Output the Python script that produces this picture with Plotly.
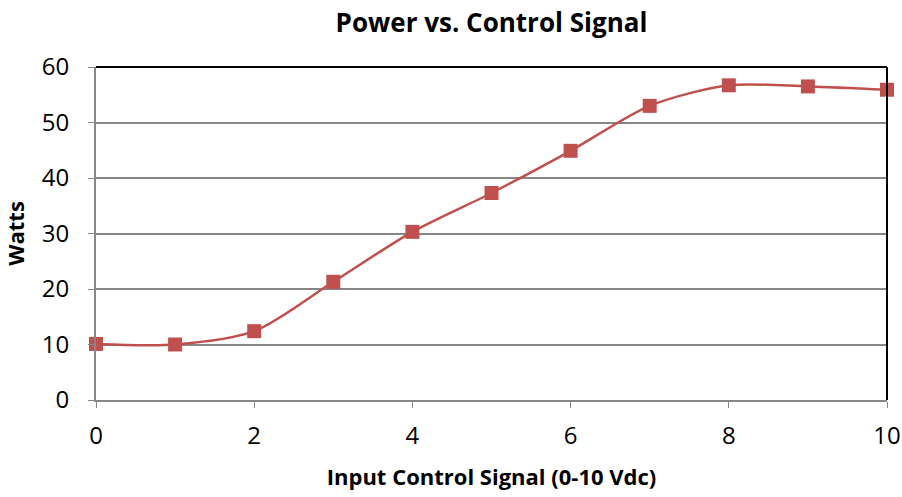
import plotly.graph_objects as go

x_vals = [0, 1, 2, 3, 4, 5, 6, 7, 8, 9, 10]
watts = [10.1, 10.0, 12.4, 21.3, 30.3, 37.3, 44.9, 53.0, 56.7, 56.5, 55.9]
x_ticks = [0, 2, 4, 6, 8, 10]
y_ticks = [0, 10, 20, 30, 40, 50, 60]

FONT = "Open Sans, Calibri, sans-serif"
W, H = 902, 497

fig = go.Figure()
fig.add_trace(go.Scatter(
    x=x_vals, y=watts, mode="lines+markers",
    line=dict(color="#C0504D", width=2.5, shape="spline", smoothing=0.8),
    marker=dict(symbol="square", size=14, color="#C0504D"),
    showlegend=False, cliponaxis=False,
))

fig.update_layout(
    width=W, height=H,
    margin=dict(l=96, r=15, t=67, b=97),
    paper_bgcolor="white", plot_bgcolor="white",
    font=dict(family=FONT, color="black", size=22),
    title=dict(text="<b>Power vs. Control Signal</b>", x=0.5, xanchor="center",
               xref="paper", yref="container",
               y=1 - 23 / H, yanchor="middle", font=dict(size=26, family=FONT)),
)
fig.update_xaxes(
    range=[0, 10], tickvals=x_ticks, showgrid=False, automargin=False,
    ticks="outside", ticklen=6, tickcolor="#868686", tickwidth=1,
    showline=True, linecolor="#868686", linewidth=2, mirror=False,
    zeroline=False, ticklabelstandoff=7,
    title=dict(text="<b>Input Control Signal (0-10 Vdc)</b>", font=dict(size=22), standoff=20),
    tickfont=dict(size=24),
)
fig.update_yaxes(
    range=[0, 60], tickvals=y_ticks, showgrid=True, gridcolor="#868686", gridwidth=1.5,
    automargin=False,
    ticks="outside", ticklen=6, tickcolor="#868686", tickwidth=1,
    showline=True, linecolor="#868686", linewidth=2,
    zeroline=False, ticklabelstandoff=14,
    title=dict(text="<b>Watts</b>", font=dict(size=22), standoff=18),
    tickfont=dict(size=24),
)
# black top and right border
fig.add_shape(type="line", xref="paper", yref="paper", x0=0, x1=1, y0=1, y1=1,
              line=dict(color="black", width=2))
fig.add_shape(type="line", xref="paper", yref="paper", x0=1, x1=1, y0=0, y1=1,
              line=dict(color="black", width=2))

fig.write_html("out.html", config={"displayModeBar": False},
               post_script="document.body.style.margin='0';document.body.style.overflow='hidden';")
